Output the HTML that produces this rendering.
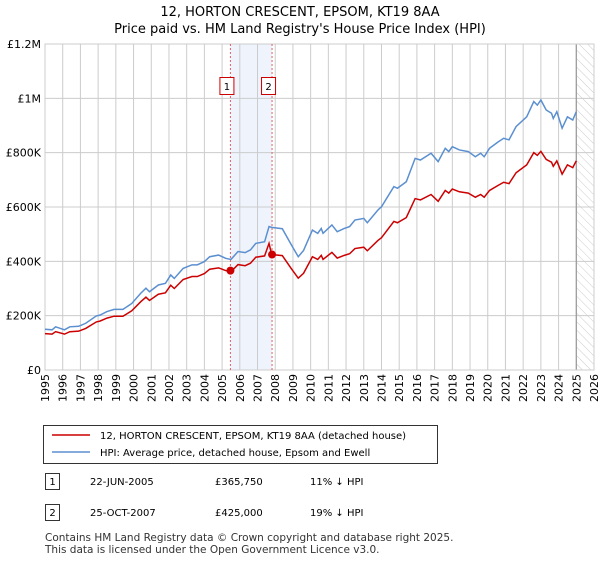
<!DOCTYPE html>
<html><head><meta charset="utf-8"><style>
body{margin:0;background:#fff;font-family:"Liberation Sans","DejaVu Sans",sans-serif;}
svg text{font-family:"DejaVu Sans","Liberation Sans",sans-serif;}
</style></head><body>
<svg id="chart" width="600" height="560" xmlns="http://www.w3.org/2000/svg">
<defs><pattern id="hatch" width="6" height="6" patternUnits="userSpaceOnUse" patternTransform="rotate(-45)"><line x1="0" y1="0" x2="0" y2="6" stroke="#ccc" stroke-width="1"/></pattern></defs>
<text x="300" y="16" text-anchor="middle" font-size="13">12, HORTON CRESCENT, EPSOM, KT19 8AA</text>
<text x="300" y="33" text-anchor="middle" font-size="13">Price paid vs. HM Land Registry's House Price Index (HPI)</text>
<g id="grid"></g><g id="marks"></g><g id="axes"></g>
<rect x="43.5" y="425.5" width="394" height="38" fill="#fff" stroke="#333"/>
<line x1="52" y1="435" x2="90" y2="435" stroke="#cc0000" stroke-width="1.5"/>
<text x="100" y="439" font-size="10">12, HORTON CRESCENT, EPSOM, KT19 8AA (detached house)</text>
<line x1="52" y1="452" x2="90" y2="452" stroke="#5b8fd0" stroke-width="1.5"/>
<text x="100" y="456" font-size="10">HPI: Average price, detached house, Epsom and Ewell</text>
<g>
<rect x="45.5" y="473.5" width="14" height="16" fill="#fff" stroke="#333"/><text x="52.5" y="485" text-anchor="middle" font-size="10">1</text>
<text x="90" y="485" font-size="10">22-JUN-2005</text><text x="215" y="485" font-size="10">£365,750</text><text x="310" y="485" font-size="10">11% ↓ HPI</text></g>
<g>
<rect x="45.5" y="504.5" width="14" height="16" fill="#fff" stroke="#333"/><text x="52.5" y="516" text-anchor="middle" font-size="10">2</text>
<text x="90" y="516" font-size="10">25-OCT-2007</text><text x="215" y="516" font-size="10">£425,000</text><text x="310" y="516" font-size="10">19% ↓ HPI</text></g>
<text x="45" y="541" font-size="10.5" fill="#333">Contains HM Land Registry data © Crown copyright and database right 2025.</text>
<text x="45" y="553" font-size="10.5" fill="#333">This data is licensed under the Open Government Licence v3.0.</text>
</svg>
<script>
const times=[1995.0,1995.4,1995.6,1996.1,1996.4,1996.9,1997.3,1997.9,1998.1,1998.5,1998.9,1999.4,1999.9,2000.4,2000.7,2000.9,2001.4,2001.8,2002.1,2002.3,2002.8,2003.3,2003.6,2004.0,2004.3,2004.8,2005.2,2005.5,2005.9,2006.3,2006.6,2006.9,2007.4,2007.65,2007.8,2008.4,2008.9,2009.3,2009.6,2010.1,2010.4,2010.6,2010.7,2011.2,2011.5,2011.9,2012.2,2012.5,2013.0,2013.2,2013.8,2014.0,2014.7,2014.9,2015.4,2015.9,2016.2,2016.8,2017.2,2017.6,2017.8,2018.0,2018.4,2018.9,2019.3,2019.6,2019.8,2020.1,2020.6,2020.9,2021.2,2021.6,2022.2,2022.6,2022.8,2023.0,2023.3,2023.6,2023.7,2023.9,2024.2,2024.5,2024.8,2025.0];
const hpiValues=[150,148,159,148,159,161,172,199,202,215,223,223,245,282,301,288,313,319,350,337,374,387,387,399,417,423,411,407,436,432,442,466,472,528,525,520,462,417,440,515,503,521,503,534,509,521,528,552,558,542,589,601,675,669,693,779,773,798,767,816,804,822,810,804,785,798,785,816,840,853,847,896,932,988,975,994,957,945,926,951,890,932,920,951];
const priceValues=[134,132,141,132,141,143,153,177,180,191,198,198,218,251,268,256,279,284,312,300,333,344,344,355,371,376,366,362,388,384,393,415,420,466,425,421,374,338,356,417,407,422,407,433,412,422,428,447,452,439,477,487,547,542,561,631,626,646,621,661,651,666,656,651,636,646,636,661,680,691,686,726,755,800,790,805,775,765,750,770,721,755,745,770];
const saleTimes=[2005.47,2007.82];
const salePrices=[365.75,425];
const saleLabels=["1","2"];
const yTicks=[0,200,400,600,800,1000,1200];
const yTickLabels=["£0","£200K","£400K","£600K","£800K","£1M","£1.2M"];
const xYears=[1995,1996,1997,1998,1999,2000,2001,2002,2003,2004,2005,2006,2007,2008,2009,2010,2011,2012,2013,2014,2015,2016,2017,2018,2019,2020,2021,2022,2023,2024,2025,2026];
const NS="http://www.w3.org/2000/svg";
const L=45,R=594,T=44,B=370;
const x=t=>L+(t-1995)/(2026-1995)*(R-L);
const y=v=>B-v/1200*(B-T);
function mk(tag,attrs,parent){const e=document.createElementNS(NS,tag);for(const k in attrs)e.setAttribute(k,attrs[k]);parent.appendChild(e);return e;}
const grid=document.getElementById('grid'),marks=document.getElementById('marks'),axes=document.getElementById('axes');
// shaded band
const band=mk('rect',{x:x(saleTimes[0]),y:T,width:x(saleTimes[1])-x(saleTimes[0]),height:B-T,fill:'#eef3fc'},grid);


yTicks.forEach((v,i)=>{
 mk('line',{x1:L,x2:R,y1:y(v),y2:y(v),stroke:'#ccc','stroke-width':1},grid);
 const t=mk('text',{x:L-4,y:y(v)+4,'text-anchor':'end','font-size':11},axes);t.textContent=yTickLabels[i];
 
 
});
xYears.forEach(yr=>{
 mk('line',{x1:x(yr),x2:x(yr),y1:T,y2:B,stroke:'#ccc','stroke-width':1},grid);
 const t=mk('text',{x:0,y:0,'text-anchor':'end','font-size':11,transform:`translate(${x(yr)+4},${B+4}) rotate(-90)`},axes);t.textContent=yr;
 
 
});
// hatched future
const hx=x(2025.0);
const hatch=mk('rect',{x:hx,y:T,width:R-hx,height:B-T,fill:'url(#hatch)'},grid);


mk('line',{x1:hx,x2:hx,y1:T,y2:B,stroke:'#999','stroke-width':1.2},grid);
mk('rect',{x:L,y:T,width:R-L,height:B-T,fill:'none',stroke:'#ccc'},grid);
saleTimes.forEach((st,i)=>{
 mk('line',{x1:x(st),x2:x(st),y1:T,y2:B,stroke:'#e06060','stroke-dasharray':'2,2','stroke-width':1},marks);
 const bx=mk('rect',{x:x(st)-10.5,y:77.5,width:14,height:17,fill:'#fff',stroke:'#cc0000'},marks);
 
 
 const t=mk('text',{x:x(st)-3.5,y:90,'text-anchor':'middle','font-size':10},marks);t.textContent=saleLabels[i];
});
const hp=mk('polyline',{points:times.map((t,i)=>x(t)+','+y(hpiValues[i])).join(' '),fill:'none',stroke:'#5b8fd0','stroke-width':1.5},marks);


const pp=mk('polyline',{points:times.map((t,i)=>x(t)+','+y(priceValues[i])).join(' '),fill:'none',stroke:'#cc0000','stroke-width':1.5},marks);


saleTimes.forEach((st,i)=>{
 const c=mk('circle',{cx:x(st),cy:y(salePrices[i]),r:4,fill:'#cc0000'},marks);
 
 
});
</script>
</body></html>
